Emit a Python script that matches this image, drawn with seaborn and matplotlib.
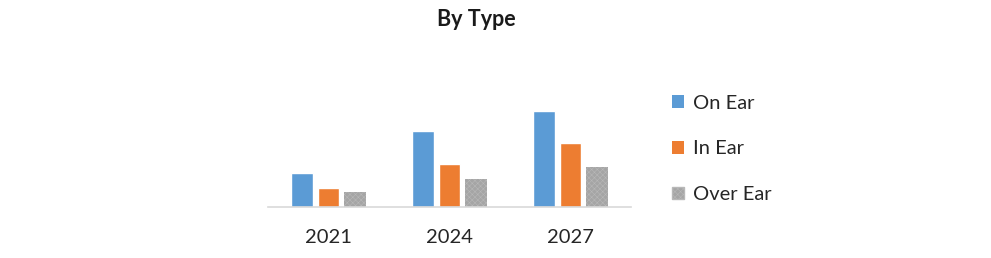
import matplotlib
matplotlib.use("Agg")
import matplotlib.pyplot as plt
import seaborn as sns
import pandas as pd
from matplotlib.patches import Patch

years = ["2021", "2024", "2027"]
series = ["On Ear", "In Ear", "Over Ear"]
on_ear = [34, 76, 96]
in_ear = [19, 43, 64]
over_ear = [15, 28, 40]
colors = ["#5b9bd5", "#ed7d31", "#a5a5a5"]

rows = []
for name, vals in zip(series, [on_ear, in_ear, over_ear]):
    for y, v in zip(years, vals):
        rows.append({"Year": y, "Type": name, "Value": v})
df = pd.DataFrame(rows)

sns.set_theme(style="white")
plt.rcParams["font.family"] = ["Lato", "DejaVu Sans"]
plt.rcParams["hatch.linewidth"] = 0.4

fig = plt.figure(figsize=(9.91, 2.58), dpi=100)
ax = fig.add_axes([268 / 991, 1 - 207 / 258, 363 / 991, 120 / 258])
sns.barplot(data=df, x="Year", y="Value", hue="Type", palette=colors,
            width=0.66, gap=0.2, ax=ax, legend=False, saturation=1)

# texture on Over Ear bars
for bar in ax.containers[2]:
    bar.set_hatch("xxxxxx")
    bar.set_edgecolor("#b8b8b8")
    bar.set_linewidth(0)

ax.set_ylim(0, 120)
ax.set_xlim(-0.5, 2.5)
for s in ["top", "right", "left"]:
    ax.spines[s].set_visible(False)
ax.spines["bottom"].set_color("#d9d9d9")
ax.spines["bottom"].set_linewidth(1.2)
ax.set_yticks([])
ax.set_xlabel("")
ax.set_ylabel("")
ax.tick_params(axis="x", length=0, pad=16, labelsize=14.5, colors="#262626")

fig.text(476 / 991, 1 - 20 / 258, "By Type", ha="center", va="center",
         fontsize=15.5, fontweight="bold", color="#1a1a1a")

handles = [Patch(facecolor=c, edgecolor="none") for c in colors]
handles[2].set_hatch("xxxxxx")
handles[2].set_edgecolor("#b8b8b8")
leg = fig.legend(handles, series, loc="center left",
                 bbox_to_anchor=(654 / 991, 1 - 149 / 258), frameon=False,
                 fontsize=14.5, labelspacing=1.42, handlelength=0.6,
                 handleheight=0.6, handletextpad=0.45, labelcolor="#262626")

fig.savefig("out.png", dpi=100, facecolor="white")
